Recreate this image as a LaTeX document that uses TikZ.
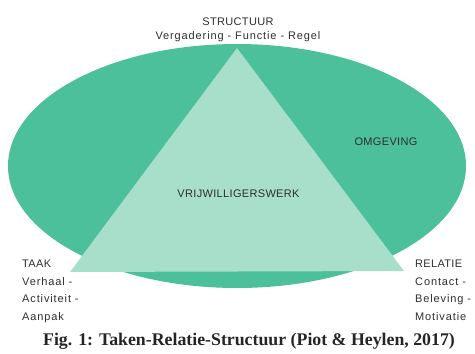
\documentclass[tikz,border=0pt]{standalone}
\usepackage{fontspec}
\usetikzlibrary{shapes.geometric}
\setmainfont{Liberation Serif}
\newfontfamily\lblfont[LetterSpace=3]{Liberation Sans}
\newfontfamily\lblwide[LetterSpace=8]{Liberation Sans}
\definecolor{ellgreen}{HTML}{4CBF9B}
\definecolor{trigreen}{HTML}{A8DFCA}
\definecolor{txtgray}{HTML}{2E2E2E}
\newcommand{\lw}[1]{{\lblwide #1}}
\begin{document}
\begin{tikzpicture}[x=1pt,y=-1pt,
  lbl/.style={font=\lblfont\fontsize{11}{17.4}\selectfont, text=txtgray, inner sep=0pt},
  caption/.style={font=\bfseries\fontsize{17.8}{19}\selectfont, text=txtgray!80!black, inner sep=0pt}]
\useasboundingbox (0,0) rectangle (475,354);
\node[draw=none, fill=ellgreen, ellipse, minimum width=458pt, minimum height=244pt, inner sep=0pt] (omg) at (237,166) {};
\coordinate (apex) at (237,48);
\coordinate (bl) at (70,272);
\coordinate (br) at (404,271);
\fill[trigreen] (apex) -- (bl) -- (br) -- cycle;
\node[lbl, anchor=base] (struct) at (238,25) {STRUCTUUR};
\node[lbl, anchor=base] (structsub) at (238,39) {\lw{Vergadering - Functie - Regel}};
\node[lbl, anchor=base] (omgl) at (386,145) {OMGEVING};
\node[lbl, anchor=base] (vrij) at (238.5,197) {VRIJWILLIGERSWERK};
\node[lbl, anchor=north west, align=left] (taak) at (22,260.1) {TAAK\\\lw{Verhaal -}\\\lw{Activiteit -}\\\lw{Aanpak}};
\node[lbl, anchor=north west, align=left] (rel) at (415,260.1) {RELATIE\\\lw{Contact -}\\\lw{Beleving -}\\\lw{Motivatie}};
\node[caption, anchor=base] (cap) at (249,345) {Fig. 1: Taken-Relatie-Structuur (Piot \& Heylen, 2017)};
\end{tikzpicture}
\end{document}
